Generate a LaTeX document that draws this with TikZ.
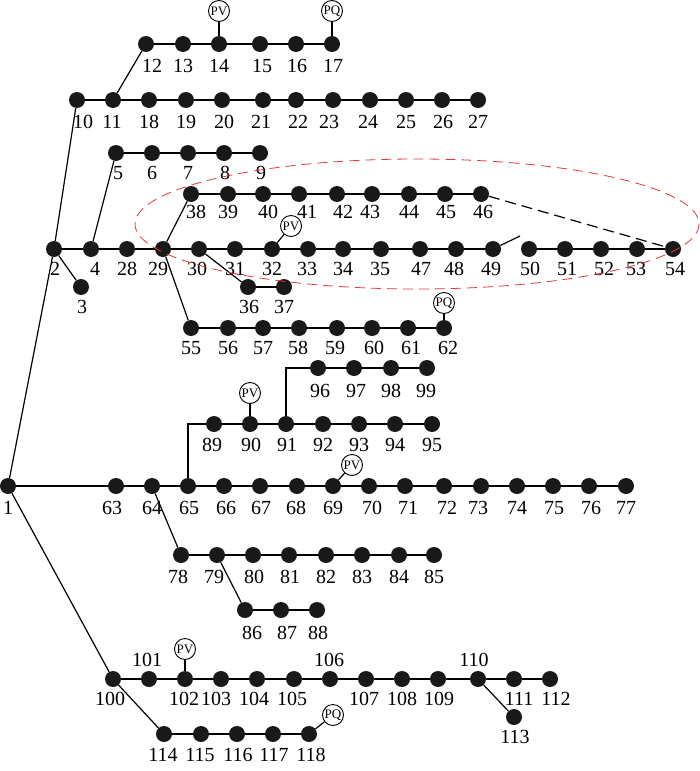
\documentclass[tikz,border=0pt]{standalone}
\usepackage{fontspec}
\setmainfont{Liberation Serif}
\definecolor{zonered}{RGB}{232,52,52}
\newcommand\bs[5]{\node[bus] (n#1) at (#2,#3) {}; \node[lbl] (l#1) at (#4,#5) {#1};}
\begin{document}
\begin{tikzpicture}[x=1pt,y=-1pt,
  bus/.style={circle,fill=black!90,inner sep=0,minimum size=16pt},
  lbl/.style={inner sep=0,font=\fontsize{20}{20}\selectfont},
  gen/.style={circle,draw,line width=0.9pt,inner sep=0,minimum size=21pt,font=\fontsize{13}{13}\selectfont},
  ln/.style={line width=1.2pt},
  tie/.style={line width=1.2pt,dash pattern=on 11pt off 6pt},
  zone/.style={draw=zonered,line width=0.8pt,dash pattern=on 10pt off 6pt}]
\useasboundingbox (0,0) rectangle (700,771);
% row 12-17
\bs{12}{146}{44}{152}{66}
\bs{13}{183}{44}{183}{66}
\bs{14}{219}{44}{219}{66}
\bs{15}{260}{44}{262}{66}
\bs{16}{296}{44}{297}{66}
\bs{17}{332}{44}{333}{66}
% row 10-27
\bs{10}{77}{100}{83}{122}
\bs{11}{113}{100}{112}{122}
\bs{18}{149}{100}{149}{122}
\bs{19}{186}{100}{186}{122}
\bs{20}{222}{100}{224}{122}
\bs{21}{263}{100}{261}{122}
\bs{22}{296}{100}{298}{122}
\bs{23}{333}{100}{329}{122}
\bs{24}{370}{100}{368}{122}
\bs{25}{406}{100}{406}{122}
\bs{26}{442}{100}{443}{122}
\bs{27}{478}{100}{478}{122}
% row 5-9
\bs{5}{116}{153}{118}{173}
\bs{6}{152}{153}{152}{173}
\bs{7}{188}{153}{188}{173}
\bs{8}{224}{153}{225}{173}
\bs{9}{260}{153}{261}{173}
% row 38-46
\bs{38}{191}{194}{196}{212}
\bs{39}{228}{194}{228}{212}
\bs{40}{263}{194}{268}{212}
\bs{41}{299}{194}{307}{212}
\bs{42}{337}{194}{343}{212}
\bs{43}{372}{194}{370}{212}
\bs{44}{409}{194}{409}{212}
\bs{45}{445}{194}{446}{212}
\bs{46}{481}{194}{483}{212}
% main row 2-54
\bs{2}{54}{249}{55}{269}
\bs{4}{91}{249}{95}{269}
\bs{28}{127}{249}{127}{269}
\bs{29}{163}{249}{158}{269}
\bs{30}{199}{249}{197}{269}
\bs{31}{235}{249}{235}{269}
\bs{32}{272}{249}{272}{269}
\bs{33}{308}{249}{307}{269}
\bs{34}{343}{249}{343}{269}
\bs{35}{381}{249}{380}{269}
\bs{47}{420}{249}{421}{269}
\bs{48}{456}{249}{454}{269}
\bs{49}{493}{249}{491}{269}
\bs{50}{529}{249}{530}{269}
\bs{51}{565}{249}{567}{269}
\bs{52}{601}{249}{604}{269}
\bs{53}{637}{249}{636}{269}
\bs{54}{673}{249}{675}{269}
\bs{3}{81}{287}{82}{307}
\bs{36}{248}{287}{249}{307}
\bs{37}{284}{287}{284}{307}
% row 55-62
\bs{55}{191}{328}{191}{348}
\bs{56}{228}{328}{228}{348}
\bs{57}{263}{328}{263}{348}
\bs{58}{299}{328}{298}{348}
\bs{59}{337}{328}{335}{348}
\bs{60}{372}{328}{374}{348}
\bs{61}{408}{328}{411}{348}
\bs{62}{444}{328}{448}{348}
% row 96-99
\bs{96}{318}{368}{320}{391}
\bs{97}{354}{368}{356}{391}
\bs{98}{391}{368}{391}{391}
\bs{99}{427}{368}{426}{391}
% row 89-95
\bs{89}{214}{424}{212}{445}
\bs{90}{250}{424}{251}{445}
\bs{91}{286}{424}{287}{445}
\bs{92}{323}{424}{323}{445}
\bs{93}{359}{424}{359}{445}
\bs{94}{395}{424}{395}{445}
\bs{95}{432}{424}{432}{445}
% main row 1, 63-77
\bs{1}{8}{486}{8}{508}
\bs{63}{116}{486}{112}{508}
\bs{64}{152}{486}{152}{508}
\bs{65}{188}{486}{189}{508}
\bs{66}{224}{486}{226}{508}
\bs{67}{260}{486}{261}{508}
\bs{68}{297}{486}{296}{508}
\bs{69}{333}{486}{333}{508}
\bs{70}{369}{486}{372}{508}
\bs{71}{405}{486}{408}{508}
\bs{72}{444}{486}{447}{508}
\bs{73}{481}{486}{478}{508}
\bs{74}{517}{486}{517}{508}
\bs{75}{553}{486}{554}{508}
\bs{76}{589}{486}{591}{508}
\bs{77}{626}{486}{626}{508}
% row 78-85
\bs{78}{181}{555}{178}{577}
\bs{79}{217}{555}{214}{577}
\bs{80}{253}{555}{254}{577}
\bs{81}{289}{555}{290}{577}
\bs{82}{326}{555}{326}{577}
\bs{83}{362}{555}{362}{577}
\bs{84}{399}{555}{399}{577}
\bs{85}{434}{555}{434}{577}
% row 86-88
\bs{86}{245}{610}{252}{633}
\bs{87}{281}{610}{287}{633}
\bs{88}{317}{610}{318}{633}
% row 100-112
\bs{100}{113}{679}{110}{699}
\bs{101}{149}{679}{147}{660}
\bs{102}{185}{679}{184}{699}
\bs{103}{221}{679}{216}{699}
\bs{104}{257}{679}{254}{699}
\bs{105}{294}{679}{292}{699}
\bs{106}{330}{679}{329}{660}
\bs{107}{366}{679}{364}{699}
\bs{108}{402}{679}{402}{699}
\bs{109}{438}{679}{439}{699}
\bs{110}{478}{679}{474}{660}
\bs{111}{514}{679}{519}{699}
\bs{112}{550}{679}{556}{699}
\bs{113}{514}{717}{515}{737}
% row 114-118
\bs{114}{164}{734}{163}{755}
\bs{115}{201}{734}{200}{755}
\bs{116}{237}{734}{238}{755}
\bs{117}{273}{734}{274}{755}
\bs{118}{309}{734}{311}{755}
% generators and loads
\node[gen] (pv14) at (219,11) {PV};
\node[gen] (pq17) at (332,11) {PQ};
\node[gen] (pv32) at (291,226) {PV};
\node[gen] (pq62) at (444,303) {PQ};
\node[gen] (pv90) at (250,393) {PV};
\node[gen] (pv69) at (352,465) {PV};
\node[gen] (pv102) at (185,649) {PV};
\node[gen] (pq118) at (333,715) {PQ};
\coordinate (sw) at (520,236);
% connectors
\draw[ln] (n1) -- (n2);
\draw[ln] (n2) -- (n10);
\draw[ln] (n10) -- (n11) -- (n18) -- (n19) -- (n20) -- (n21) -- (n22) -- (n23) -- (n24) -- (n25) -- (n26) -- (n27);
\draw[ln] (n11) -- (n12);
\draw[ln] (n12) -- (n13) -- (n14) -- (n15) -- (n16) -- (n17);
\draw[ln] (n2) -- (n4) -- (n28) -- (n29) -- (n30) -- (n31) -- (n32) -- (n33) -- (n34) -- (n35) -- (n47) -- (n48) -- (n49);
\draw[ln] (n49) -- (sw);
\draw[ln] (n50) -- (n51) -- (n52) -- (n53) -- (n54);
\draw[ln] (n2) -- (n3);
\draw[ln] (n4) -- (n5);
\draw[ln] (n5) -- (n6) -- (n7) -- (n8) -- (n9);
\draw[ln] (n29) -- (n38);
\draw[ln] (n38) -- (n39) -- (n40) -- (n41) -- (n42) -- (n43) -- (n44) -- (n45) -- (n46);
\draw[tie] (n46) -- (n54);
\draw[ln] (n30) -- (n36);
\draw[ln] (n36) -- (n37);
\draw[ln] (n29) -- (n55);
\draw[ln] (n55) -- (n56) -- (n57) -- (n58) -- (n59) -- (n60) -- (n61) -- (n62);
\draw[ln] (n1) -- (n63) -- (n64) -- (n65) -- (n66) -- (n67) -- (n68) -- (n69) -- (n70) -- (n71) -- (n72) -- (n73) -- (n74) -- (n75) -- (n76) -- (n77);
\draw[ln] (n65) |- (n89);
\draw[ln] (n89) -- (n90) -- (n91) -- (n92) -- (n93) -- (n94) -- (n95);
\draw[ln] (n91) |- (n96);
\draw[ln] (n96) -- (n97) -- (n98) -- (n99);
\draw[ln] (n64) -- (n78);
\draw[ln] (n78) -- (n79) -- (n80) -- (n81) -- (n82) -- (n83) -- (n84) -- (n85);
\draw[ln] (n79) -- (n86);
\draw[ln] (n86) -- (n87) -- (n88);
\draw[ln] (n1) -- (n100);
\draw[ln] (n100) -- (n101) -- (n102) -- (n103) -- (n104) -- (n105) -- (n106) -- (n107) -- (n108) -- (n109) -- (n110) -- (n111) -- (n112);
\draw[ln] (n110) -- (n113);
\draw[ln] (n100) -- (n114);
\draw[ln] (n114) -- (n115) -- (n116) -- (n117) -- (n118);
\draw[ln] (n14) -- (pv14);
\draw[ln] (n17) -- (pq17);
\draw[ln] (n32) -- (pv32);
\draw[ln] (n62) -- (pq62);
\draw[ln] (n90) -- (pv90);
\draw[ln] (n69) -- (pv69);
\draw[ln] (n102) -- (pv102);
\draw[ln] (n118) -- (pq118);
% zone
\draw[zone] (417,224) ellipse [x radius=282, y radius=65];
\end{tikzpicture}
\end{document}
